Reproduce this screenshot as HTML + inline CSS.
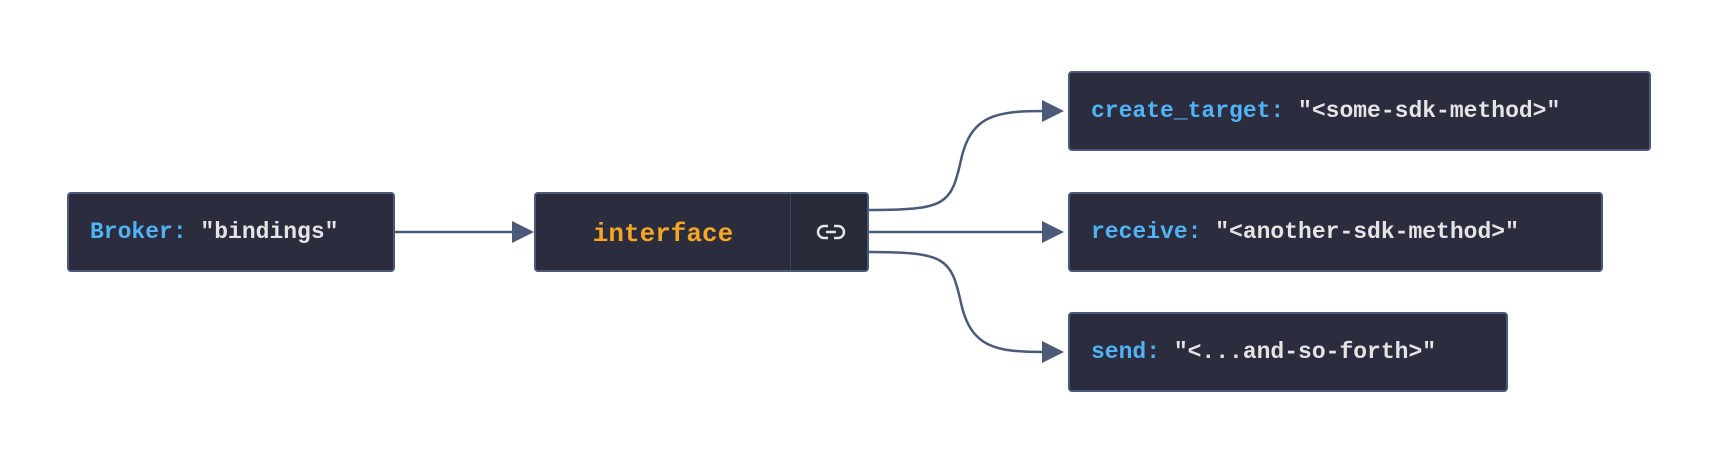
<!DOCTYPE html>
<html><head><style>
body{margin:0;width:1715px;height:450px;background:#fff;position:relative;overflow:hidden;font-family:"Liberation Mono",monospace;font-weight:bold}
.b{position:absolute;background:#2b2d3f;border:2px solid #4a5a78;border-radius:4px;box-sizing:border-box;display:flex;align-items:center;font-size:23px;color:#e4e4e4;white-space:pre}
.k{color:#4fb3f6}
</style></head><body>
<svg width="1715" height="450" style="position:absolute;left:0;top:0">
<g stroke="#4a5a78" stroke-width="2.5" fill="none">
<path d="M394 232 H514"/>
<path d="M868 210 C946 210 951 205 961 160 C971 115 996 111 1044 111"/>
<path d="M868 232 H1044"/>
<path d="M868 252 C946 252 951 258 961 303 C971 348 996 352 1044 352"/>
</g>
<g fill="#4a5a78">
<polygon points="512,221 534,232 512,243"/>
<polygon points="1042,100 1064,111 1042,122"/>
<polygon points="1042,221 1064,232 1042,243"/>
<polygon points="1042,341 1064,352 1042,363"/>
</g>
</svg>
<div class="b" style="left:67px;top:192px;width:328px;height:80px;padding-left:21px"><span class="k">Broker:</span> "bindings"</div>
<div class="b" style="left:534px;top:192px;width:335px;height:80px">
<div style="width:254px;text-align:center;color:#f5a623;font-size:26px;padding-top:4px">interface</div>
<div style="position:absolute;left:254px;top:0;bottom:0;right:0;border-left:1px solid #3d4456;background:#272a38"></div>
<svg width="30" height="20" style="position:absolute;left:280px;top:28px" viewBox="0 0 30 20"><g fill="none" stroke="#e4e4e4" stroke-width="2.5"><path d="M12 4H8a6 6 0 0 0 0 12h4"/><path d="M18 4h4a6 6 0 0 1 0 12h-4"/><path d="M10 10h10"/></g></svg>
</div>
<div class="b" style="left:1068px;top:71px;width:583px;height:80px;padding-left:21px"><span class="k">create_target:</span> "&lt;some-sdk-method&gt;"</div>
<div class="b" style="left:1068px;top:192px;width:535px;height:80px;padding-left:21px"><span class="k">receive:</span> "&lt;another-sdk-method&gt;"</div>
<div class="b" style="left:1068px;top:312px;width:440px;height:80px;padding-left:21px"><span class="k">send:</span> "&lt;...and-so-forth&gt;"</div>
</body></html>
